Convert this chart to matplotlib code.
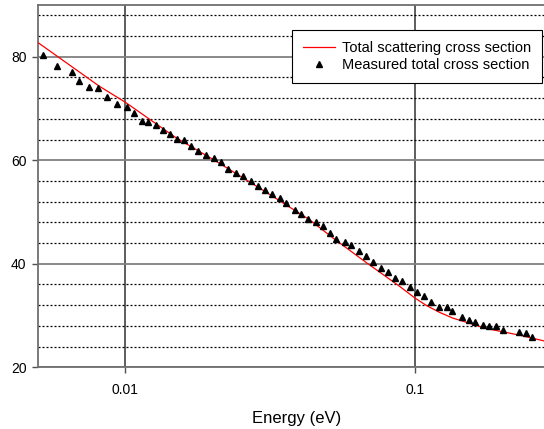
import numpy as np
import matplotlib
matplotlib.use('Agg')
import matplotlib.pyplot as plt
from matplotlib.ticker import FixedLocator, NullLocator, FuncFormatter

plt.rcParams['font.family'] = ['Liberation Sans', 'DejaVu Sans']

# measured total cross section (triangles)
measE = [0.00517, 0.00578, 0.00652, 0.00689, 0.00747, 0.00807, 0.00862, 0.00938,
         0.0101, 0.01068, 0.01142, 0.01201, 0.01275, 0.01346, 0.01431, 0.01508,
         0.01594, 0.01679, 0.01785, 0.01902, 0.02021, 0.02132, 0.02259, 0.02415,
         0.0254, 0.02707, 0.0287, 0.03027, 0.03208, 0.03411, 0.03598, 0.03844,
         0.04055, 0.04273, 0.0457, 0.04816, 0.05108, 0.05358, 0.05724, 0.06039,
         0.06416, 0.06805, 0.07172, 0.07627, 0.08082, 0.08525, 0.09035, 0.0961,
         0.1014, 0.1077, 0.1136, 0.1211, 0.1288, 0.134, 0.1458, 0.1538,
         0.1617, 0.1715, 0.1807, 0.1911, 0.2011, 0.2291, 0.2422, 0.2546]
measSigma = [80.4, 78.3, 77.1, 75.4, 74.2, 74.0, 72.2, 70.9,
             70.3, 69.2, 67.6, 67.3, 66.8, 65.9, 65.1, 64.1,
             63.9, 62.7, 61.8, 61.1, 60.4, 59.6, 58.4, 57.6,
             56.9, 56.0, 55.1, 54.2, 53.5, 52.7, 51.8, 50.4,
             49.7, 48.7, 48.0, 47.3, 46.0, 44.8, 44.2, 43.7,
             42.4, 41.5, 40.3, 39.2, 38.4, 37.3, 36.6, 35.5,
             34.6, 33.8, 32.7, 31.7, 31.6, 30.8, 29.7, 29.2,
             28.8, 28.2, 27.9, 27.9, 27.2, 26.8, 26.6, 25.8]

# calculated total scattering cross section (red curve)
calcE = [0.00497, 0.00813, 0.0100, 0.0150, 0.0206, 0.0303, 0.0433, 0.0521,
         0.0681, 0.0888, 0.1000, 0.1100, 0.1219, 0.1354, 0.1767, 0.2305, 0.2795]
calcSigma = [82.8, 74.3, 71.2, 64.3, 59.8, 54.0, 48.5, 45.0,
             40.2, 35.6, 33.4, 31.9, 30.6, 29.5, 27.5, 26.2, 25.1]

yMinor = [24, 28, 32, 36, 44, 48, 52, 56, 64, 68, 72, 76, 84, 88]

fig = plt.figure(figsize=(5.44, 4.29), dpi=100)
ax = fig.add_axes([38.3/544, 61.7/429, 1 - 38.3/544, 362.3/429])

ax.plot(calcE, calcSigma, color='red', lw=0.9, label='Total scattering cross section', zorder=3)
ax.plot(measE, measSigma, ls='none', marker='^', ms=4.2, color='black',
        label='Measured total cross section', zorder=4)

ax.set_xscale('log')
ax.set_xlim(0.005, 0.2795)
ax.set_ylim(20, 90)

ax.xaxis.set_major_locator(FixedLocator([0.01, 0.1]))
ax.xaxis.set_minor_locator(NullLocator())
ax.xaxis.set_major_formatter(FuncFormatter(lambda v, p: '%g' % v))
ax.yaxis.set_major_locator(FixedLocator([20, 40, 60, 80]))
ax.yaxis.set_minor_locator(FixedLocator(yMinor))

ax.grid(axis='x', which='major', color='#505050', lw=1.3)
ax.grid(axis='y', which='major', color='#808080', lw=1.3)
ax.grid(axis='y', which='minor', color='black', lw=0.9, ls=(0, (1.6, 1.6)))

ax.tick_params(axis='both', which='major', direction='out', length=4.5, width=1,
               color='#505050', labelsize=10, pad=4)
ax.tick_params(axis='x', which='major', pad=7)
ax.tick_params(axis='y', which='minor', length=0)

for side in ['left', 'top', 'bottom']:
    ax.spines[side].set_color('#707070')
    ax.spines[side].set_linewidth(1.3)
ax.spines['right'].set_visible(False)

ax.set_xlabel('Energy (eV)', fontsize=12)
ax.xaxis.set_label_coords(0.51, -0.12)

leg = ax.legend(loc='upper right', bbox_to_anchor=(0.996, 0.931), borderaxespad=0,
                fontsize=10.5, fancybox=False, framealpha=1, edgecolor='black',
                handlelength=2.2, labelspacing=0.22, borderpad=0.75, handletextpad=0.5)
leg.get_frame().set_linewidth(0.8)

fig.savefig('out.png', dpi=100)
